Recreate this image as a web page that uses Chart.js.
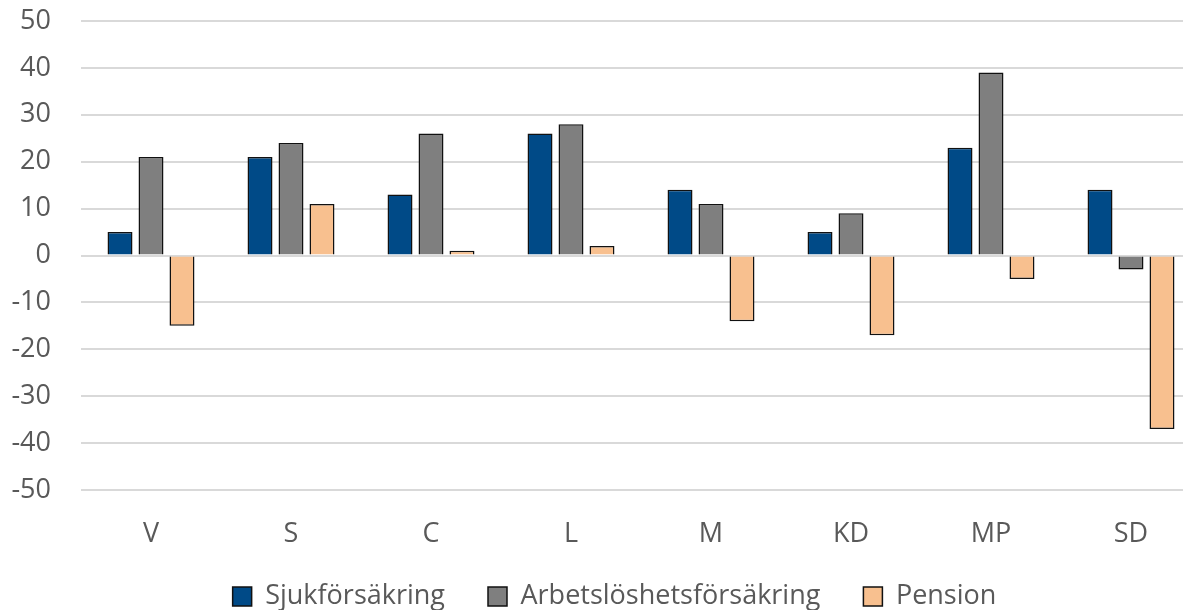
<!DOCTYPE html>
<html>
<head>
<meta charset="utf-8">
<script src="https://cdn.jsdelivr.net/npm/chart.js@4/dist/chart.umd.min.js"></script>
<style>
  html, body { margin: 0; padding: 0; background: #fff; overflow: hidden; }
  #wrap { width: 1201px; height: 610px; }
</style>
</head>
<body>
<div id="wrap"><canvas id="barChart"></canvas></div>
<script>
// data
const parties = ['V', 'S', 'C', 'L', 'M', 'KD', 'MP', 'SD'];
const sjuk = [5, 21, 13, 26, 14, 5, 23, 14];
const arbets = [21, 24, 26, 28, 11, 9, 39, -3];
const pension = [-15, 11, 1, 2, -14, -17, -5, -37];

const font = "'Open Sans', 'Liberation Sans', sans-serif";

// put the legend under the x labels, a bit right of centre like the original
const placeLegend = {
  id: 'placeLegend',
  afterLayout(chart) {
    const lg = chart.legend;
    if (!lg) return;
    lg.left = 14; lg.right = 1215;
    lg.top = 540; lg.bottom = 620;
  }
};

const ctx = document.getElementById('barChart').getContext('2d');
new Chart(ctx, {
  type: 'bar',
  data: {
    labels: parties,
    datasets: [
      { label: 'Sjukförsäkring', data: sjuk, backgroundColor: '#004a87' },
      { label: 'Arbetslöshetsförsäkring', data: arbets, backgroundColor: '#7f7f7f' },
      { label: 'Pension', data: pension, backgroundColor: '#f8c08f' }
    ]
  },
  plugins: [placeLegend],
  options: {
    responsive: true,
    maintainAspectRatio: false,
    animation: false,
    datasets: {
      bar: {
        borderColor: '#111',
        borderWidth: 1.5,
        categoryPercentage: 0.664,
        barPercentage: 0.806
      }
    },
    layout: { padding: { top: 21, left: 0, right: 0, bottom: 0 } },
    scales: {
      y: {
        min: -50,
        max: 50,
        ticks: { stepSize: 10, color: '#595959', padding: 30, font: { family: font, size: 27 } },
        grid: { color: '#d9d9d9', lineWidth: 2, drawTicks: false },
        border: { display: false },
        afterFit: (s) => { s.width = 81; s.paddingTop = 0; s.paddingBottom = 0; }
      },
      x: {
        ticks: { color: '#595959', padding: 20, font: { family: font, size: 27 } },
        grid: { display: false },
        border: { display: false },
        afterFit: (s) => { s.height = 60; }
      }
    },
    plugins: {
      legend: {
        position: 'bottom',
        maxHeight: 60,
        labels: {
          color: '#595959',
          boxWidth: 19,
          boxHeight: 19,
          padding: 43,
          font: { family: font, size: 27 }
        }
      },
      tooltip: { enabled: false }
    }
  }
});
</script>
</body>
</html>
